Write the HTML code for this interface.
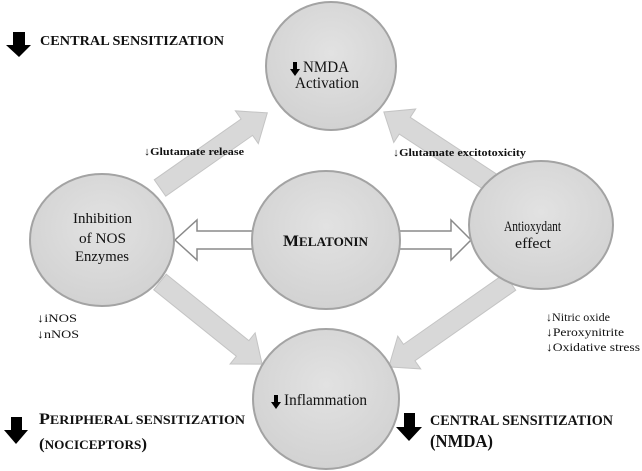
<!DOCTYPE html>
<html><head><meta charset="utf-8"><style>
body{margin:0;background:#fff}
svg{display:block}
text{font-family:"Liberation Serif","Times New Roman",serif;fill:#111}
</style></head><body>
<svg width="642" height="471" viewBox="0 0 642 471" xmlns="http://www.w3.org/2000/svg">
<defs>
<radialGradient id="g" cx="50%" cy="40%" r="60%">
<stop offset="0" stop-color="#e2e2e2"/><stop offset="1" stop-color="#d2d2d2"/>
</radialGradient>
</defs>
<g fill="#d8d8d8" stroke="#c4c4c4" stroke-width="1">
<g transform="translate(160,188) rotate(-35)"><polygon points="0,-10 106,-10 106,-20 131,0 106,20 106,10 0,10"/></g>
<g transform="translate(495,185) rotate(213.3)"><polygon points="0,-10 108,-10 108,-20 133,0 108,20 108,10 0,10"/></g>
<g transform="translate(160,282) rotate(38.8)"><polygon points="0,-10 106,-10 106,-20 131,0 106,20 106,10 0,10"/></g>
<g transform="translate(510,282) rotate(145)"><polygon points="0,-10 123,-10 123,-20 148,0 123,20 123,10 0,10"/></g>
</g>
<g fill="#fff" stroke="#8a8a8a" stroke-width="1.5">
<polygon points="258,231 197,231 197,220 175,240 197,260 197,249 258,249"/>
<polygon points="394,231 451,231 451,220 471,240 451,260 451,249 394,249"/>
</g>
<g fill="url(#g)" stroke="#a3a3a3" stroke-width="2">
<ellipse cx="331" cy="66" rx="65" ry="64"/>
<ellipse cx="102" cy="240" rx="72" ry="66"/>
<ellipse cx="326" cy="240" rx="74" ry="69"/>
<ellipse cx="541" cy="225" rx="72" ry="64"/>
<ellipse cx="326" cy="399" rx="73" ry="70"/>
</g>
<g fill="#000">
<polygon points="13,32 25,32 25,45 31,45 19,57 6,45 13,45"/>
<polygon points="11,417 22,417 22,430 28,430 16,444 4,430 11,430"/>
<polygon points="404,413 415,413 415,427 422,427 409,441 396,427 404,427"/>
<polygon points="293,62 297,62 297,69 300,69 295,76 290,69 293,69"/>
<polygon points="274,395 278,395 278,402 281,402 276,409 271,402 274,402"/>
</g>
<g font-weight="normal">
<text x="303" y="72" font-size="16" textLength="46" lengthAdjust="spacingAndGlyphs">NMDA</text>
<text x="295" y="88" font-size="16" textLength="64" lengthAdjust="spacingAndGlyphs">Activation</text>
<text x="73" y="223" font-size="15" textLength="59" lengthAdjust="spacingAndGlyphs">Inhibition</text>
<text x="79" y="243" font-size="15" textLength="47" lengthAdjust="spacingAndGlyphs">of NOS</text>
<text x="75" y="261" font-size="15" textLength="54" lengthAdjust="spacingAndGlyphs">Enzymes</text>
<text x="504" y="231" font-size="15" textLength="57" lengthAdjust="spacingAndGlyphs">Antioxydant</text>
<text x="515" y="248" font-size="15" textLength="36" lengthAdjust="spacingAndGlyphs">effect</text>
<text x="284" y="405" font-size="16" textLength="83" lengthAdjust="spacingAndGlyphs">Inflammation</text>
<text x="37" y="322" font-size="12" textLength="40" lengthAdjust="spacingAndGlyphs">↓iNOS</text>
<text x="37" y="338" font-size="12" textLength="42" lengthAdjust="spacingAndGlyphs">↓nNOS</text>
<text x="546" y="321" font-size="12" textLength="64" lengthAdjust="spacingAndGlyphs">↓Nitric oxide</text>
<text x="546" y="336" font-size="12" textLength="78" lengthAdjust="spacingAndGlyphs">↓Peroxynitrite</text>
<text x="546" y="351" font-size="12" textLength="94" lengthAdjust="spacingAndGlyphs">↓Oxidative stress</text>
</g>
<g font-weight="bold">
<text x="40" y="45" font-size="14" textLength="184" lengthAdjust="spacingAndGlyphs">CENTRAL SENSITIZATION</text>
<text x="144" y="155" font-size="11" textLength="100" lengthAdjust="spacingAndGlyphs">↓Glutamate release</text>
<text x="393" y="156" font-size="11" textLength="133" lengthAdjust="spacingAndGlyphs">↓Glutamate excitotoxicity</text>
<text x="283" y="246" font-size="16" textLength="85" lengthAdjust="spacingAndGlyphs">M<tspan font-size="12.5">ELATONIN</tspan></text>
<text x="39" y="424" font-size="16" textLength="206" lengthAdjust="spacingAndGlyphs">P<tspan font-size="12.5">ERIPHERAL SENSITIZATION</tspan></text>
<text x="39" y="449" font-size="16" textLength="108" lengthAdjust="spacingAndGlyphs">(<tspan font-size="12.5">NOCICEPTORS</tspan>)</text>
<text x="430" y="425" font-size="15" textLength="183" lengthAdjust="spacingAndGlyphs">CENTRAL SENSITIZATION</text>
<text x="430" y="447" font-size="18" textLength="63" lengthAdjust="spacingAndGlyphs">(NMDA)</text>
</g>
</svg>
</body></html>
